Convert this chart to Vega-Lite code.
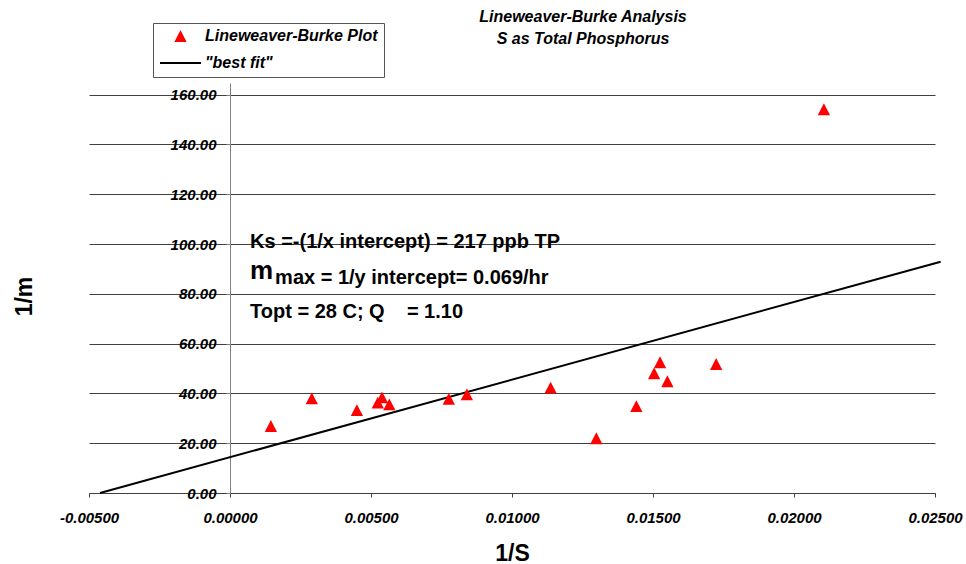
{
  "$schema": "https://vega.github.io/schema/vega-lite/v6.json",
  "width": 846,
  "height": 410,
  "autosize": {"type": "none"},
  "padding": {"left": 89, "top": 83, "right": 31, "bottom": 71},
  "background": "white",
  "title": {
    "text": ["Lineweaver-Burke Analysis", "S as Total Phosphorus"],
    "font": "Liberation Sans",
    "fontSize": 16,
    "fontWeight": "bold",
    "fontStyle": "italic",
    "color": "black",
    "anchor": "middle",
    "frame": "group",
    "baseline": "alphabetic",
    "lineHeight": 22,
    "dx": 71,
    "dy": 42,
    "offset": 5
  },
  "datasets": {
    "points": [
      {"invS": 0.00145, "invM": 26.9, "series": "Lineweaver-Burke Plot"},
      {"invS": 0.0029, "invM": 38.0, "series": "Lineweaver-Burke Plot"},
      {"invS": 0.0045, "invM": 33.3, "series": "Lineweaver-Burke Plot"},
      {"invS": 0.00524, "invM": 36.3, "series": "Lineweaver-Burke Plot"},
      {"invS": 0.00539, "invM": 38.4, "series": "Lineweaver-Burke Plot"},
      {"invS": 0.00565, "invM": 35.6, "series": "Lineweaver-Burke Plot"},
      {"invS": 0.00776, "invM": 37.8, "series": "Lineweaver-Burke Plot"},
      {"invS": 0.0084, "invM": 39.6, "series": "Lineweaver-Burke Plot"},
      {"invS": 0.01137, "invM": 42.3, "series": "Lineweaver-Burke Plot"},
      {"invS": 0.01299, "invM": 22.0, "series": "Lineweaver-Burke Plot"},
      {"invS": 0.01441, "invM": 34.9, "series": "Lineweaver-Burke Plot"},
      {"invS": 0.01504, "invM": 48.1, "series": "Lineweaver-Burke Plot"},
      {"invS": 0.01525, "invM": 52.5, "series": "Lineweaver-Burke Plot"},
      {"invS": 0.01551, "invM": 44.9, "series": "Lineweaver-Burke Plot"},
      {"invS": 0.01724, "invM": 51.8, "series": "Lineweaver-Burke Plot"},
      {"invS": 0.02106, "invM": 154.1, "series": "Lineweaver-Burke Plot"}
    ],
    "fit": [
      {"invS": -0.00461, "invM": 0},
      {"invS": 0.0252, "invM": 92.9}
    ],
    "notes": [
      {"invS": 0.00071, "invM": 98.4, "text": "Ks =-(1/x intercept) = 217 ppb TP"},
      {"invS": 0.0016, "invM": 83.9, "text": "max = 1/y intercept= 0.069/hr"},
      {"invS": 0.00071, "invM": 70.3, "text": "Topt = 28 C; Q\u00a0\u00a0\u00a0 = 1.10"}
    ],
    "mu": [
      {"invS": 0.00071, "invM": 85.8, "text": "m"}
    ]
  },
  "layer": [
    {
      "data": {"name": "fit"},
      "mark": {"type": "line", "color": "black", "strokeWidth": 2, "clip": false},
      "encoding": {
        "x": {
          "field": "invS", "type": "quantitative",
          "scale": {"domain": [-0.005, 0.025], "nice": false, "zero": false},
          "axis": {
            "title": "1/S",
            "values": [-0.005, 0, 0.005, 0.01, 0.015, 0.02, 0.025],
            "format": ".5f",
            "grid": false,
            "domainColor": "#404040",
            "tickColor": "#404040",
            "tickSize": 4,
            "labelFont": "Liberation Sans",
            "labelFontSize": 15,
            "labelFontWeight": "bold",
            "labelFontStyle": "italic",
            "labelColor": "black",
            "labelBaseline": "alphabetic",
            "labelPadding": 25,
            "labelFlush": false,
            "labelOverlap": false,
            "labelBound": false,
            "titleFont": "Liberation Sans",
            "titleFontSize": 23,
            "titleFontWeight": "bold",
            "titleColor": "black",
            "titleBaseline": "alphabetic",
            "titleY": 67
          }
        },
        "y": {
          "field": "invM", "type": "quantitative",
          "scale": {"domain": [0, 164.66], "nice": false, "zero": false},
          "axis": {
            "title": "1/m",
            "values": [0, 20, 40, 60, 80, 100, 120, 140, 160],
            "format": ".2f",
            "offset": -141,
            "grid": true,
            "gridColor": "#404040",
            "gridWidth": 1,
            "domainColor": "#808080",
            "tickColor": "#808080",
            "tickSize": 4,
            "labelFont": "Liberation Sans",
            "labelFontSize": 15,
            "labelFontWeight": "bold",
            "labelFontStyle": "italic",
            "labelColor": "black",
            "labelPadding": 10,
            "labelOverlap": false,
            "labelBound": false,
            "titleFont": "Liberation Sans",
            "titleFontSize": 23,
            "titleFontWeight": "bold",
            "titleColor": "black",
            "titleAngle": 270,
            "titleAlign": "center",
            "titleBaseline": "alphabetic",
            "titleX": -199,
            "titleY": 213
          }
        }
      }
    },
    {
      "data": {"name": "points"},
      "mark": {"type": "point", "filled": true, "size": 1681, "strokeWidth": 0, "opacity": 1},
      "encoding": {
        "x": {"field": "invS", "type": "quantitative"},
        "y": {"field": "invM", "type": "quantitative"},
        "color": {
          "field": "series", "type": "nominal",
          "scale": {"domain": ["Lineweaver-Burke Plot", "\"best fit\""], "range": ["#ff0000", "black"]},
          "legend": {
            "title": null,
            "orient": "none",
            "legendX": 64,
            "legendY": -60,
            "padding": 6,
            "strokeColor": "#555555",
            "fillColor": "white",
            "symbolSize": 1681,
            "symbolStrokeWidth": 2,
            "symbolOpacity": 1,
            "clipHeight": 14,
            "rowPadding": 11,
            "labelOffset": 3,
            "labelLimit": 0,
            "labelFont": "Liberation Sans",
            "labelFontSize": 16,
            "labelFontWeight": "bold",
            "labelFontStyle": "italic",
            "labelColor": "black"
          }
        },
        "stroke": {
          "field": "series", "type": "nominal",
          "scale": {"domain": ["Lineweaver-Burke Plot", "\"best fit\""], "range": ["rgba(255,0,0,0)", "black"]},
          "legend": {
            "title": null,
            "orient": "none",
            "legendX": 64,
            "legendY": -60
          }
        },
        "shape": {
          "field": "series", "type": "nominal",
          "scale": {"domain": ["Lineweaver-Burke Plot", "\"best fit\""], "range": ["M0,-0.29L0.3,0.29L-0.3,0.29Z", "M-1,0L1,0"]},
          "legend": {
            "title": null,
            "orient": "none",
            "legendX": 64,
            "legendY": -60
          }
        }
      }
    },
    {
      "data": {"name": "notes"},
      "mark": {"type": "text", "font": "Liberation Sans", "fontSize": 20, "fontWeight": "bold", "color": "black", "align": "left", "baseline": "alphabetic"},
      "encoding": {
        "x": {"field": "invS", "type": "quantitative"},
        "y": {"field": "invM", "type": "quantitative"},
        "text": {"field": "text"}
      }
    },
    {
      "data": {"name": "mu"},
      "mark": {"type": "text", "font": "Liberation Sans", "fontSize": 26, "fontWeight": "bold", "color": "black", "align": "left", "baseline": "alphabetic"},
      "encoding": {
        "x": {"field": "invS", "type": "quantitative"},
        "y": {"field": "invM", "type": "quantitative"},
        "text": {"field": "text"}
      }
    }
  ],
  "config": {
    "view": {"stroke": null},
    "locale": {"number": {"decimal": ".", "thousands": ",", "grouping": [3], "currency": ["$", ""], "minus": "-"}}
  }
}
